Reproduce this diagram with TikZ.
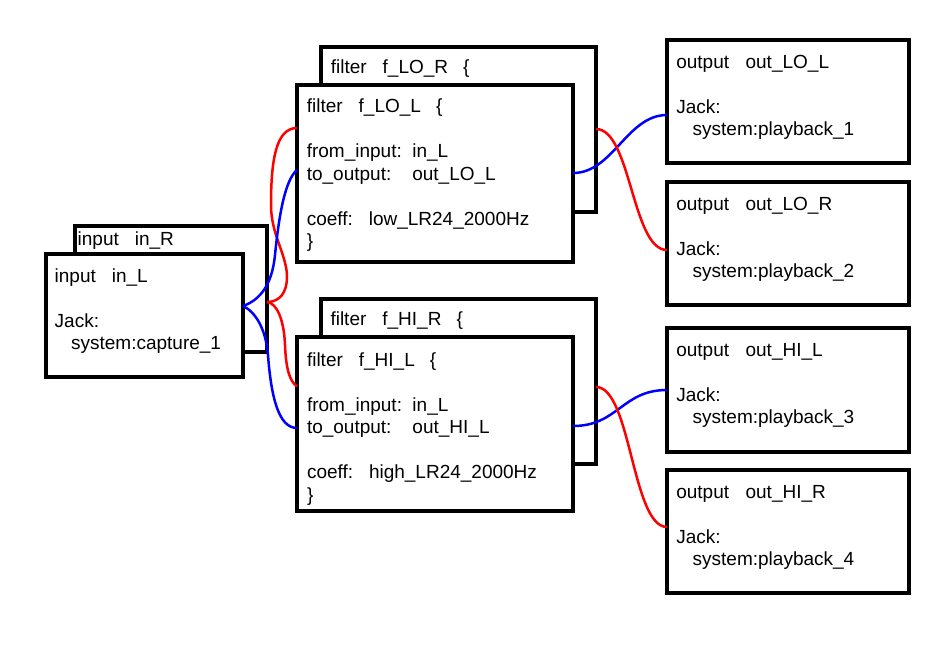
\documentclass[tikz,border=0pt]{standalone}
\usepackage{fontspec}
\setmainfont{Liberation Sans}
\begin{document}
\begin{tikzpicture}[x=1pt,y=-1pt,
  box/.style={draw=black, line width=3.5pt, fill=white, inner sep=0pt, outer sep=0pt, anchor=north west},
  txt/.style={font=\fontsize{19}{22.5}\selectfont, inner sep=0pt, outer sep=0pt, anchor=base west, text width=280pt, align=left},
  redw/.style={draw=red, line width=2.5pt},
  bluew/.style={draw=blue, line width=2.5pt}]
\useasboundingbox (0,0) rectangle (950,646);
\fill[white] (0,0) rectangle (950,646);
% input boxes
\node[box, minimum width=192pt, minimum height=126pt] (inR) at (75,226) {};
\node[txt] (inRt) at (77.7,245.7) {input\hspace{16pt}in\_R};
\node[box, minimum width=197pt, minimum height=123pt] (inL) at (46,254) {};
\node[txt] (inLt) at (54.7,282) {input\hspace{16pt}in\_L\\[22.5pt]Jack:\\\hspace*{16.4pt}system:capture\_1};
% LO filters
\node[box, minimum width=275pt, minimum height=165pt] (LOb) at (321,47) {};
\node[txt] (LObt) at (330.8,73.3) {filter\hspace{16pt}f\_LO\_R\hspace{15pt}\{};
\node[box, minimum width=276pt, minimum height=177pt] (LOf) at (297,85) {};
\node[txt] (LOft) at (306.8,112.7) {filter\hspace{16pt}f\_LO\_L\hspace{15pt}\{\\[22.5pt]\makebox[105.5pt][l]{from\_input:}in\_L\\\makebox[105.5pt][l]{to\_output:}out\_LO\_L\\[22.5pt]\makebox[62pt][l]{coeff:}low\_LR24\_2000Hz\\\}};
% HI filters
\node[box, minimum width=275pt, minimum height=165pt] (HIb) at (321,299) {};
\node[txt] (HIbt) at (330.5,325.7) {filter\hspace{16pt}f\_HI\_R\hspace{15pt}\{};
\node[box, minimum width=276pt, minimum height=174pt] (HIf) at (297,337) {};
\node[txt] (HIft) at (307,366) {filter\hspace{16pt}f\_HI\_L\hspace{15pt}\{\\[22.5pt]\makebox[105.5pt][l]{from\_input:}in\_L\\\makebox[105.5pt][l]{to\_output:}out\_HI\_L\\[22.5pt]\makebox[62pt][l]{coeff:}high\_LR24\_2000Hz\\\}};
% outputs
\node[box, minimum width=242pt, minimum height=123pt] (oLOL) at (667,40) {};
\node[txt] (oLOLt) at (676.3,68.3) {output\hspace{16.5pt}out\_LO\_L\\[22.5pt]Jack:\\\hspace*{16.4pt}system:playback\_1};
\node[box, minimum width=242pt, minimum height=123pt] (oLOR) at (667,182) {};
\node[txt] (oLORt) at (676.3,210) {output\hspace{16.5pt}out\_LO\_R\\[22.5pt]Jack:\\\hspace*{16.4pt}system:playback\_2};
\node[box, minimum width=242pt, minimum height=124pt] (oHIL) at (667,328) {};
\node[txt] (oHILt) at (676.3,356) {output\hspace{16.5pt}out\_HI\_L\\[22.5pt]Jack:\\\hspace*{16.4pt}system:playback\_3};
\node[box, minimum width=242pt, minimum height=123pt] (oHIR) at (667,470) {};
\node[txt] (oHIRt) at (676.3,498.3) {output\hspace{16.5pt}out\_HI\_R\\[22.5pt]Jack:\\\hspace*{16.4pt}system:playback\_4};
% waypoints
\coordinate (rU1) at (287,277);
\coordinate (rU2) at (271,205);
\coordinate (bU) at (275,255);
\coordinate (bD) at (268,355);
\coordinate (rD) at (285,345);
% input connectors
\draw[redw] ([yshift=-13pt]inR.east) .. controls +(13,0) and +(0,15) .. (rU1)
   .. controls +(0,-22) and +(0,30) .. (rU2)
   .. controls +(0,-45) and +(-21,0) .. ([yshift=45.5pt]LOf.west);
\draw[redw] ([yshift=-13pt]inR.east) .. controls +(10,1) and +(-1,-25) .. (rD)
   .. controls +(1,25) and +(-7,-5) .. ([yshift=37.5pt]HIf.west);
\draw[bluew] ([yshift=9.5pt]inL.east) .. controls +(17,-6) and +(-3,30) .. (bU)
   .. controls +(4,-40) and +(-12,10) .. ([yshift=3.5pt]LOf.west);
\draw[bluew] ([yshift=9.5pt]inL.east) .. controls +(13,6) and +(-2,-25) .. (bD)
   .. controls +(3,40) and +(-19,0) .. ([yshift=-4pt]HIf.west);
% output connectors
\draw[bluew] ([yshift=0.5pt]LOf.east) .. controls +(40,0) and +(-40,0) .. ([yshift=-13.5pt]oLOL.west);
\draw[redw] ([yshift=0.5pt]LOb.east) .. controls +(35,0) and +(-35,0) .. ([yshift=-6.5pt]oLOR.west);
\draw[bluew] ([yshift=-2pt]HIf.east) .. controls +(45,0) and +(-45,0) .. (oHIL.west);
\draw[redw] ([yshift=-5.5pt]HIb.east) .. controls +(35,0) and +(-35,0) .. ([yshift=4.5pt]oHIR.west);
\end{tikzpicture}
\end{document}
